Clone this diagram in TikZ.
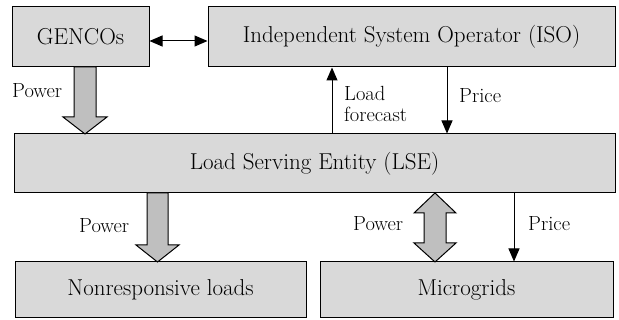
\documentclass[tikz,border=0pt]{standalone}
\usetikzlibrary{arrows.meta}
\tikzset{
    box/.style={draw, line width=1pt, fill=gray!30, inner sep=0pt,
        font=\fontsize{23}{26}\selectfont},
    lbl/.style={font=\fontsize{20.5}{21}\selectfont, inner sep=0pt, align=left, anchor=west},
    sig/.style={line width=1pt, -{Triangle[length=13pt,width=11pt]}},
    fat/.style={draw, line width=1pt, fill=gray!50, line join=miter}
}
\begin{document}
\begin{tikzpicture}[x=1pt, y=-1pt]
    % the frame
    \useasboundingbox (0,0) rectangle (619,320);
    % the boxes
    \node[box, minimum width=137, minimum height=60] (gen) at (80.5,37) {GENCOs};
    \node[box, minimum width=407, minimum height=60] (iso) at (411.5,37) {Independent System Operator (ISO)};
    \node[box, minimum width=601, minimum height=59] (lse) at (314.5,163.5) {Load Serving Entity (LSE)};
    \node[box, minimum width=291, minimum height=56] (nrl) at (160.5,290) {Nonresponsive loads};
    \node[box, minimum width=293, minimum height=56] (mg) at (466.5,290) {Microgrids};

    % the signals
    \coordinate (lf) at (332,100);
    \coordinate (pr) at (447,100);
    \coordinate (pm) at (514,230);
    \draw[line width=1pt, {Triangle[length=13pt,width=11pt]}-{Triangle[length=13pt,width=11pt]}]
        ([yshift=-4]gen.east) -- ([yshift=-4]iso.west);
    \draw[sig] (lf |- lse.north) -- (lf |- iso.south);
    \draw[sig] (pr |- iso.south) -- (pr |- lse.north);
    \draw[sig] (pm |- lse.south) -- (pm |- mg.north);

    % the power flows
    \draw[fat] (74,67) -- (96,67) -- (96,117) -- (107,117) -- (85,134)
        -- (63,117) -- (74,117) -- cycle;
    \draw[fat] (147,193) -- (168,193) -- (168,245) -- (179,245) -- (157.5,262)
        -- (136,245) -- (147,245) -- cycle;
    \draw[fat] (435,193) -- (456,213) -- (446,213) -- (446,243) -- (456,243)
        -- (435,262) -- (414,243) -- (424,243) -- (424,213) -- (414,213) -- cycle;

    % labels
    \node[lbl] (pw1) at (12,91) {Power};
    \node[lbl] (lfc) at (344,104) {Load\\forecast};
    \node[lbl] (pr1) at (459,96) {Price};
    \node[lbl] (pw2) at (79,226) {Power};
    \node[lbl] (pw3) at (353,224) {Power};
    \node[lbl] (pr2) at (528,224) {Price};
\end{tikzpicture}
\end{document}
